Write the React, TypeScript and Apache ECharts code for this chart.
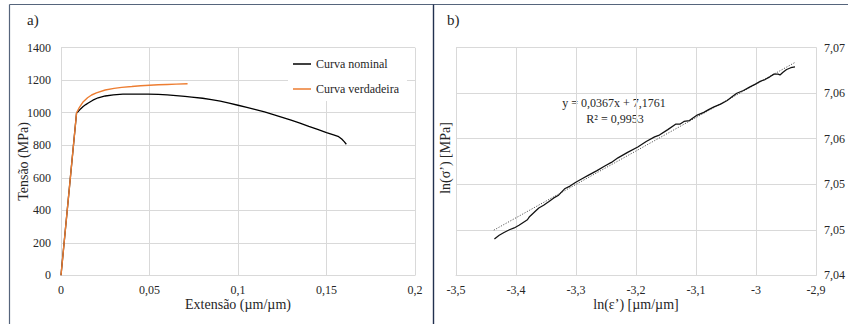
import React, { useEffect, useRef } from "react";
import * as echarts from "echarts";

// Panel a) – stress–strain curves
const nominalStrain = [0, 0.0088, 0.0098, 0.0112, 0.0125, 0.0140, 0.0154, 0.0180, 0.0210, 0.0250, 0.0296, 0.0350, 0.0400, 0.0450, 0.0493, 0.0550, 0.0600, 0.0650, 0.0700, 0.0738, 0.0800, 0.0850, 0.0900, 0.0950, 0.1000, 0.1050, 0.1100, 0.1150, 0.1200, 0.1250, 0.1300, 0.1350, 0.1400, 0.1450, 0.1500, 0.1540, 0.1565, 0.1586, 0.1600, 0.1612];
const nominalStress = [0, 1000, 1008, 1025, 1038, 1050, 1060, 1077, 1092, 1103, 1110, 1114, 1115, 1115, 1115, 1113, 1110, 1105, 1100, 1096, 1089, 1081, 1071, 1059, 1046, 1033, 1019, 1005, 989, 972, 954, 936, 916, 897, 878, 864, 855, 838, 822, 806];
const trueStrain = [0, 0.0088, 0.0105, 0.0126, 0.0150, 0.0173, 0.0200, 0.0250, 0.0300, 0.0343, 0.0400, 0.0450, 0.0500, 0.0550, 0.0600, 0.0650, 0.0715];
const trueStress = [0, 1000, 1035, 1068, 1092, 1109, 1122, 1140, 1150, 1156, 1161, 1166, 1169, 1172, 1174, 1176, 1178];
const seriesNames = ["Curva nominal", "Curva verdadeira"];

// Panel b) – log true stress vs log true strain
const lnStrain = [-3.436, -3.428, -3.420, -3.411, -3.403, -3.395, -3.388, -3.381, -3.378, -3.370, -3.362, -3.354, -3.345, -3.337, -3.329, -3.319, -3.310, -3.301, -3.290, -3.279, -3.265, -3.252, -3.241, -3.230, -3.214, -3.197, -3.183, -3.169, -3.161, -3.147, -3.134, -3.127, -3.120, -3.111, -3.098, -3.087, -3.079, -3.070, -3.059, -3.048, -3.040, -3.032, -3.021, -3.010, -3.001, -2.993, -2.985, -2.977, -2.970, -2.963, -2.960, -2.955, -2.949, -2.942, -2.935];
const lnStress = [7.0490, 7.0494, 7.0497, 7.0500, 7.0502, 7.0505, 7.0508, 7.0511, 7.0514, 7.0519, 7.0524, 7.0527, 7.0531, 7.0535, 7.0538, 7.0545, 7.0548, 7.0552, 7.0556, 7.0560, 7.0565, 7.0570, 7.0574, 7.0579, 7.0585, 7.0591, 7.0597, 7.0602, 7.0604, 7.0610, 7.0616, 7.0616, 7.0619, 7.0620, 7.0626, 7.0629, 7.0632, 7.0635, 7.0638, 7.0642, 7.0646, 7.0650, 7.0653, 7.0657, 7.0660, 7.0663, 7.0665, 7.0668, 7.0671, 7.0671, 7.0670, 7.0673, 7.0676, 7.0678, 7.0679];
const trendLnStrain = [-3.437, -2.934];
const trendLnStress = [7.04996, 7.06842];
const equationText = "y = 0,0367x + 7,1761";
const r2Text = "R² = 0,9953";

const FONT = "Liberation Serif";
const TXT = "#262626";
const GRID = "#d9d9d9";
const LEGEND_ICON = "path://M0,0H18V1.5H0Z";

const pairs = (xs: number[], ys: number[]) => xs.map((x, i) => [x, ys[i]]);
const comma = (v: number) => String(v).replace(".", ",");

export default function App() {
  const ref = useRef<HTMLDivElement>(null);
  useEffect(() => {
    if (!ref.current) return;
    const chart = echarts.init(ref.current, undefined, { renderer: "svg" });
    const label = { color: TXT, fontFamily: FONT, fontSize: 12 };
    const nameStyle = { color: TXT, fontFamily: FONT, fontSize: 14 };
    chart.setOption({
      animation: false,
      backgroundColor: "#ffffff",
      textStyle: { fontFamily: FONT },
      grid: [
        { left: 61, top: 47.7, width: 354, height: 227.6 },
        { left: 456, top: 47.7, width: 364, height: 227.6 },
      ],
      xAxis: [
        {
          type: "value", gridIndex: 0, min: 0, max: 0.2, interval: 0.05,
          axisLine: { show: true, lineStyle: { color: GRID } },
          axisTick: { show: false },
          splitLine: { show: true, lineStyle: { color: GRID } },
          axisLabel: { ...label, margin: 9, formatter: (v: number) => comma(Math.round(v * 100) / 100) },
          name: "Extensão (µm/µm)", nameLocation: "middle", nameGap: 22, nameMoveOverlap: false, nameTextStyle: nameStyle,
        },
        {
          type: "value", gridIndex: 1, min: -3.5, max: -2.9, interval: 0.1,
          axisLine: { show: true, lineStyle: { color: GRID } },
          axisTick: { show: false },
          splitLine: { show: true, lineStyle: { color: GRID } },
          axisLabel: { ...label, margin: 9, formatter: (v: number) => comma(Math.round(v * 10) / 10) },
          name: "ln(ε’) [µm/µm]", nameLocation: "middle", nameGap: 22, nameMoveOverlap: false, nameTextStyle: nameStyle,
        },
      ],
      yAxis: [
        {
          type: "value", gridIndex: 0, min: 0, max: 1400, interval: 200,
          axisLine: { show: true, lineStyle: { color: GRID } },
          axisTick: { show: false },
          splitLine: { show: true, lineStyle: { color: GRID } },
          axisLabel: { ...label, margin: 10, formatter: (v: number) => String(v) },
          name: "Tensão (MPa)", nameLocation: "middle", nameGap: 31, nameMoveOverlap: false, nameTextStyle: nameStyle,
        },
        {
          type: "value", gridIndex: 1, position: "right", min: 7.045, max: 7.07, interval: 0.005,
          axisLine: { show: true, lineStyle: { color: GRID } },
          axisTick: { show: false },
          splitLine: { show: true, lineStyle: { color: GRID } },
          axisLabel: {
            ...label, margin: 8,
            formatter: (v: number) => (Math.floor(v * 100 + 1e-6) / 100).toFixed(2).replace(".", ","),
          },
        },
      ],
      legend: {
        data: seriesNames.map((n) => ({ name: n, icon: LEGEND_ICON })),
        orient: "vertical",
        left: 288, top: 48,
        padding: [10, 8, 6, 5],
        itemWidth: 18, itemHeight: 14, itemGap: 13,
        symbolKeepAspect: true,
        backgroundColor: "#ffffff",
        textStyle: { ...label },
      },
      series: [
        {
          name: seriesNames[0], type: "line", xAxisIndex: 0, yAxisIndex: 0,
          data: pairs(nominalStrain, nominalStress), symbol: "none",
          lineStyle: { color: "#000000", width: 1.3 }, itemStyle: { color: "#000000" },
        },
        {
          name: seriesNames[1], type: "line", xAxisIndex: 0, yAxisIndex: 0,
          data: pairs(trueStrain, trueStress), symbol: "none",
          lineStyle: { color: "#ed7d31", width: 1.4 }, itemStyle: { color: "#ed7d31" },
        },
        {
          name: "trend", type: "line", xAxisIndex: 1, yAxisIndex: 1,
          data: pairs(trendLnStrain, trendLnStress), symbol: "none",
          lineStyle: { color: "#595959", width: 1, type: [1.2, 1.5] },
        },
        {
          name: "ln", type: "line", xAxisIndex: 1, yAxisIndex: 1,
          data: pairs(lnStrain, lnStress), symbol: "none",
          lineStyle: { color: "#111111", width: 1.25 },
        },
      ],
      graphic: [
        { type: "line", shape: { x1: 9.5, y1: 4.5, x2: 848, y2: 4.5 }, style: { stroke: "#56657c", lineWidth: 1.2 } },
        { type: "line", shape: { x1: 9.5, y1: 4.5, x2: 9.5, y2: 324 }, style: { stroke: "#56657c", lineWidth: 1.2 } },
        { type: "line", shape: { x1: 433.5, y1: 4.5, x2: 433.5, y2: 324 }, style: { stroke: "#22304f", lineWidth: 1.4 } },
        { type: "text", x: 27, y: 20, style: { text: "a)", fontFamily: FONT, fontSize: 15, fill: TXT, verticalAlign: "middle" } },
        { type: "text", x: 447, y: 20, style: { text: "b)", fontFamily: FONT, fontSize: 15, fill: TXT, verticalAlign: "middle" } },
        {
          type: "text", x: 445, y: 158, rotation: Math.PI / 2,
          style: { text: "ln(σ’) [MPa]", fontFamily: FONT, fontSize: 14, fill: TXT, align: "center", verticalAlign: "middle" },
        },
        { type: "text", x: 614, y: 103, style: { text: equationText, fontFamily: FONT, fontSize: 12, fill: TXT, align: "center", verticalAlign: "middle" } },
        { type: "text", x: 615, y: 118.5, style: { text: r2Text, fontFamily: FONT, fontSize: 12, fill: TXT, align: "center", verticalAlign: "middle" } },
      ],
    });
    return () => chart.dispose();
  }, []);
  return (
    <div
      ref={ref}
      style={{ position: "fixed", left: 0, top: 0, width: 848, height: 324, background: "#fff" }}
    />
  );
}
